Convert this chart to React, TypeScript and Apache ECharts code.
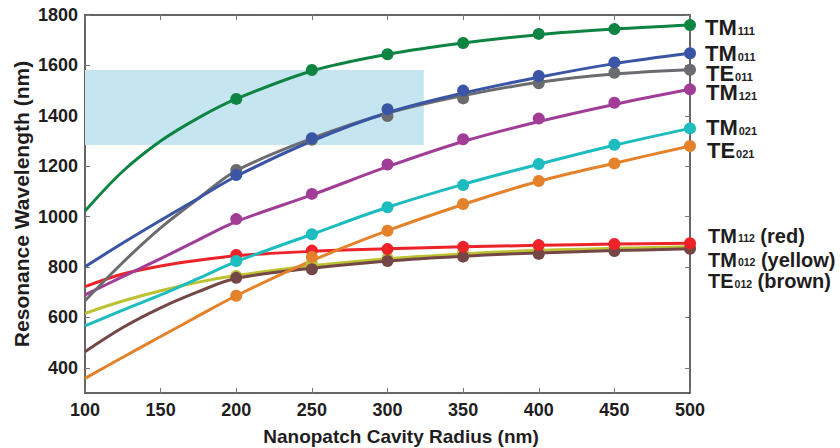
import React, { useEffect, useRef } from "react";
import * as echarts from "echarts";

// Cavity radius (nm) at which the fitted curves were read
const fitRadius = [100, 125, 150, 175, 200, 250, 300, 350, 400, 450, 500];
// Cavity radius (nm) of the simulated points (markers)
const pointRadius = [200, 250, 300, 350, 400, 450, 500];

const xTicks = [100, 150, 200, 250, 300, 350, 400, 450, 500];
const yTicks = [400, 600, 800, 1000, 1200, 1400, 1600, 1800];

// Highlighted wavelength band (radius range, wavelength range)
const bandRadius = [100, 324];
const bandWavelength = [1284, 1582];

// Fitted curves (nm)
const fitTM012 = [616, 665, 706, 740, 766, 805, 833, 852, 866, 874, 880];
const fitTE012 = [464, 560, 638, 702, 755, 795, 824, 843, 856, 865, 872];
const fitTM112 = [722, 772, 804, 827, 845, 862, 872, 880, 886, 891, 894];
const fitTE021 = [358, 442, 524, 606, 686, 825, 944, 1048, 1140, 1212, 1280];
const fitTM021 = [566, 629, 689, 755, 821, 930, 1037, 1128, 1208, 1283, 1350];
const fitTM121 = [689, 762, 833, 908, 980, 1086, 1198, 1298, 1377, 1445, 1505];
const fitTE011 = [666, 818, 955, 1072, 1182, 1310, 1410, 1480, 1533, 1566, 1583];
const fitTM011 = [801, 895, 985, 1073, 1160, 1300, 1412, 1490, 1553, 1607, 1648];
const fitTM111 = [1022, 1180, 1300, 1392, 1467, 1578, 1644, 1689, 1722, 1744, 1760];

// Simulated points (nm)
const ptTM012 = [764, 815, 835, 858, 867, 874, 880];
const ptTE012 = [757, 791, 824, 841, 852, 863, 872];
const ptTM112 = [848, 865, 871, 880, 887, 891, 894];
const ptTE021 = [686, 840, 944, 1050, 1141, 1211, 1280];
const ptTM021 = [824, 930, 1037, 1125, 1209, 1285, 1350];
const ptTM121 = [990, 1090, 1207, 1307, 1389, 1452, 1505];
const ptTE011 = [1185, 1305, 1399, 1469, 1529, 1571, 1583];
const ptTM011 = [1165, 1311, 1426, 1500, 1558, 1612, 1648];
const ptTM111 = [1467, 1582, 1644, 1689, 1725, 1744, 1760];

const modes = [
  { name: "TM012", fit: fitTM012, pts: ptTM012, color: "#bcc231" },
  { name: "TE012", fit: fitTE012, pts: ptTE012, color: "#744746" },
  { name: "TM112", fit: fitTM112, pts: ptTM112, color: "#ee2229" },
  { name: "TE021", fit: fitTE021, pts: ptTE021, color: "#e4822b" },
  { name: "TM021", fit: fitTM021, pts: ptTM021, color: "#1dbcbe" },
  { name: "TM121", fit: fitTM121, pts: ptTM121, color: "#a13d97" },
  { name: "TE011", fit: fitTE011, pts: ptTE011, color: "#6b6c6f" },
  { name: "TM011", fit: fitTM011, pts: ptTM011, color: "#3a55a5" },
  { name: "TM111", fit: fitTM111, pts: ptTM111, color: "#0e8442" },
];

// Right-hand labels: [main, subscript, suffix]
const labelsTop = [
  ["TM", "111", ""],
  ["TM", "011", ""],
  ["TE", "011", ""],
  ["TM", "121", ""],
  ["TM", "021", ""],
  ["TE", "021", ""],
];
const labelsBottom = [
  ["TM", "112", " (red)"],
  ["TM", "012", " (yellow)"],
  ["TE", "012", " (brown)"],
];
const labelTopY = [25, 51, 71, 90, 125, 148];
const labelTopX = [705, 705, 706, 706, 706, 707];
const labelBottomY = [233.5, 257.5, 279];

const TXT = "#1f1d1e";
const FONT = "'Liberation Sans', Arial, sans-serif";

export default function App() {
  const ref = useRef<HTMLDivElement>(null);
  useEffect(() => {
    if (!ref.current) return;
    const chart = echarts.init(ref.current, null, { renderer: "svg" });

    const series: any[] = [
      {
        type: "scatter",
        data: [],
        z: 1,
        silent: true,
        markArea: {
          silent: true,
          itemStyle: { color: "#c5e6f0" },
          data: [
            [
              { xAxis: bandRadius[0], yAxis: bandWavelength[0] },
              { xAxis: bandRadius[1], yAxis: bandWavelength[1] },
            ],
          ],
        },
      },
    ];
    modes.forEach((m) => {
      series.push({
        type: "line",
        name: m.name,
        data: fitRadius.map((x, i) => [x, m.fit[i]]),
        smooth: 0.35,
        showSymbol: false,
        lineStyle: { width: 3, color: m.color },
        z: 2,
      });
      series.push({
        type: "scatter",
        name: m.name + " pts",
        data: pointRadius.map((x, i) => [x, m.pts[i]]),
        symbol: "circle",
        symbolSize: 12,
        itemStyle: { color: m.color, opacity: 1 },
        z: 3,
      });
    });

    const rich = (big: number, small: number, lh: number) => ({
      a: { fontSize: big, lineHeight: lh, fontWeight: "bold", fontFamily: FONT, color: TXT },
      s: {
        fontSize: small,
        lineHeight: small,
        fontWeight: "bold",
        fontFamily: FONT,
        color: TXT,
        verticalAlign: "bottom",
        padding: [0, 0, 0, 1],
      },
    });

    const graphic: any[] = [];
    labelsTop.forEach((l, i) => {
      graphic.push({
        type: "text",
        left: labelTopX[i],
        top: labelTopY[i] - 8.5,
        style: {
          text: `{a|${l[0]}}{s|${l[1]}}`,
          rich: rich(22, 11, 17),
          fill: TXT,
        },
      });
    });
    labelsBottom.forEach((l, i) => {
      graphic.push({
        type: "text",
        left: 708,
        top: labelBottomY[i] - 8,
        style: {
          text: `{a|${l[0]}}{s|${l[1]}}{a|${l[2]}}`,
          rich: rich(20, 10.5, 16),
          fill: TXT,
        },
      });
    });
    graphic.push({
      type: "text",
      x: 401,
      y: 436,
      style: {
        text: "Nanopatch Cavity Radius (nm)",
        fontSize: 19,
        fontWeight: "bold",
        fontFamily: FONT,
        fill: TXT,
        align: "center",
        verticalAlign: "middle",
      },
    });
    graphic.push({
      type: "text",
      x: 21,
      y: 204,
      rotation: Math.PI / 2,
      style: {
        text: "Resonance Wavelength (nm)",
        fontSize: 21,
        fontWeight: "bold",
        fontFamily: FONT,
        fill: TXT,
        align: "center",
        verticalAlign: "middle",
      },
    });

    const axisLine = { show: true, lineStyle: { color: "#333", width: 1.5 } };
    const tick = { show: true, inside: true, length: 5, lineStyle: { color: "#777", width: 1 } };
    const fmt = (v: number) => String(v);

    chart.setOption({
      animation: false,
      backgroundColor: "#ffffff",
      grid: { left: 85, right: 150, top: 15, bottom: 55, containLabel: false },
      xAxis: [
        {
          type: "value",
          min: 100,
          max: 500,
          interval: 50,
          position: "bottom",
          axisLine,
          axisTick: { ...tick, customValues: xTicks },
          splitLine: { show: false },
          axisLabel: {
            customValues: xTicks,
            formatter: fmt,
            fontSize: 18,
            fontWeight: "bold",
            fontFamily: FONT,
            color: TXT,
            margin: 8,
          },
        },
        {
          type: "value",
          min: 100,
          max: 500,
          interval: 50,
          position: "top",
          axisLine,
          axisTick: { ...tick, customValues: xTicks },
          splitLine: { show: false },
          axisLabel: { show: false },
        },
      ],
      yAxis: [
        {
          type: "value",
          min: 300,
          max: 1800,
          position: "left",
          axisLine,
          axisTick: { ...tick, customValues: yTicks },
          splitLine: { show: false },
          axisLabel: {
            customValues: yTicks,
            formatter: fmt,
            fontSize: 18,
            fontWeight: "bold",
            fontFamily: FONT,
            color: TXT,
            margin: 7,
          },
        },
        {
          type: "value",
          min: 300,
          max: 1800,
          position: "right",
          axisLine,
          axisTick: { ...tick, customValues: yTicks },
          splitLine: { show: false },
          axisLabel: { show: false },
        },
      ],
      series,
      graphic,
    });
    return () => chart.dispose();
  }, []);
  return (
    <div
      ref={ref}
      style={{ position: "fixed", left: 0, top: 0, width: 840, height: 448, background: "#fff" }}
    />
  );
}
